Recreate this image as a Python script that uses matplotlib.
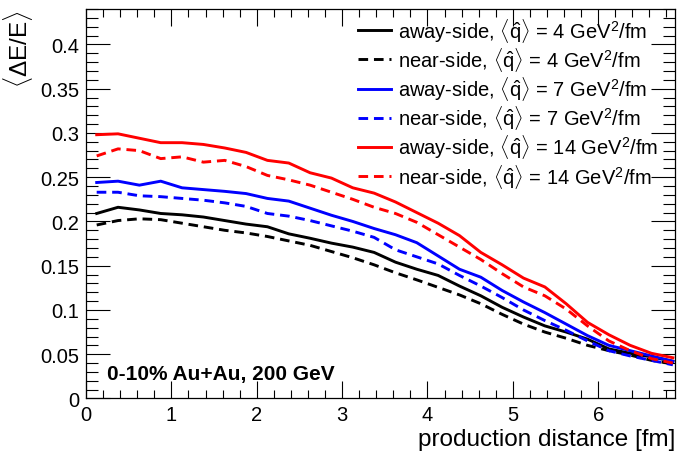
import matplotlib
matplotlib.use("Agg")
import matplotlib.pyplot as plt
from matplotlib.ticker import MultipleLocator

plt.rcParams['font.family'] = ['Liberation Sans', 'DejaVu Sans']
plt.rcParams['mathtext.fontset'] = 'custom'
plt.rcParams['mathtext.rm'] = 'Liberation Sans'
plt.rcParams['mathtext.it'] = 'Liberation Sans:italic'
plt.rcParams['mathtext.bf'] = 'Liberation Sans:bold'

# production distance bin centres [fm]
dist = [0.125, 0.375, 0.625, 0.875, 1.125, 1.375, 1.625, 1.875, 2.125, 2.375,
        2.625, 2.875, 3.125, 3.375, 3.625, 3.875, 4.125, 4.375, 4.625, 4.875,
        5.125, 5.375, 5.625, 5.875, 6.125, 6.375, 6.625, 6.875]

# <dE/E> for qhat = 4, 7, 14 GeV^2/fm
away_4 = [0.209, 0.216, 0.213, 0.209, 0.2075, 0.205, 0.201, 0.197, 0.194, 0.186,
          0.181, 0.1755, 0.171, 0.165, 0.154, 0.146, 0.139, 0.127, 0.116, 0.103,
          0.092, 0.082, 0.075, 0.067, 0.056, 0.051, 0.047, 0.042]
near_4 = [0.196, 0.201, 0.203, 0.202, 0.198, 0.194, 0.190, 0.187, 0.183, 0.178,
          0.173, 0.166, 0.159, 0.151, 0.142, 0.134, 0.1255, 0.117, 0.107, 0.095,
          0.084, 0.075, 0.068, 0.060, 0.054, 0.049, 0.043, 0.039]
away_7 = [0.244, 0.2455, 0.241, 0.2455, 0.238, 0.236, 0.234, 0.2315, 0.226, 0.223,
          0.215, 0.207, 0.200, 0.192, 0.185, 0.176, 0.161, 0.146, 0.137, 0.122,
          0.109, 0.097, 0.084, 0.071, 0.060, 0.054, 0.048, 0.042]
near_7 = [0.233, 0.233, 0.229, 0.228, 0.226, 0.224, 0.221, 0.217, 0.209, 0.206,
          0.201, 0.195, 0.189, 0.182, 0.168, 0.160, 0.152, 0.139, 0.127, 0.114,
          0.100, 0.088, 0.077, 0.065, 0.054, 0.048, 0.043, 0.038]
away_14 = [0.298, 0.299, 0.294, 0.289, 0.289, 0.287, 0.283, 0.278, 0.269, 0.266,
           0.255, 0.249, 0.238, 0.232, 0.222, 0.210, 0.198, 0.184, 0.165, 0.151,
           0.136, 0.126, 0.107, 0.086, 0.072, 0.060, 0.051, 0.046]
near_14 = [0.274, 0.282, 0.280, 0.271, 0.273, 0.267, 0.269, 0.262, 0.252, 0.247,
           0.241, 0.233, 0.225, 0.216, 0.209, 0.199, 0.185, 0.171, 0.157, 0.141,
           0.126, 0.116, 0.101, 0.082, 0.065, 0.054, 0.045, 0.040]

qhats = ['4', '4', '7', '7', '14', '14']
sides = ['away-side', 'near-side'] * 3
colors = ['black', 'black', 'blue', 'blue', 'red', 'red']
series = [away_4, near_4, away_7, near_7, away_14, near_14]

fig = plt.figure(figsize=(7, 4.56), dpi=100)
ax = fig.add_axes([0.1229, 0.124, 0.8414, 0.854])

for vals, side, q, c in zip(series, sides, qhats, colors):
    label = side + r', $\langle\hat{\mathrm{q}}\rangle$ = ' + q + r' GeV$^{2}$/fm'
    if side == 'near-side':
        ax.plot(dist, vals, color=c, lw=2.1, dashes=(3.3, 2.0), label=label)
    else:
        ax.plot(dist, vals, color=c, lw=2.1, label=label)

ax.set_xlim(0, 6.9)
ax.set_ylim(0, 0.44)

ax.xaxis.set_major_locator(MultipleLocator(1))
ax.xaxis.set_minor_locator(MultipleLocator(0.2))
ax.yaxis.set_minor_locator(MultipleLocator(0.01))
ax.set_yticks([0, 0.05, 0.1, 0.15, 0.2, 0.25, 0.3, 0.35, 0.4])
ax.set_yticklabels(['0', '0.05', '0.1', '0.15', '0.2', '0.25', '0.3', '0.35', '0.4'])

ax.tick_params(axis='both', which='both', direction='in', top=True, right=True,
               labelsize=14.5, width=0.8)
ax.tick_params(axis='y', which='major', length=17, pad=5)
ax.tick_params(axis='y', which='minor', length=8.5)
ax.tick_params(axis='x', which='major', length=12, pad=5)
ax.tick_params(axis='x', which='minor', length=6)
for sp in ax.spines.values():
    sp.set_linewidth(0.9)

ax.set_xlabel('production distance [fm]', fontsize=17.5, loc='right')
ax.xaxis.set_label_coords(1.0, -0.075)
ax.set_ylabel(r'$\langle\mathit{\Delta}$E/E$\rangle$', fontsize=17.5, loc='top')
ax.yaxis.set_label_coords(-0.087, 1.0)

ax.text(0.036, 0.063, '0-10% Au+Au, 200 GeV', transform=ax.transAxes,
        fontsize=15, fontweight='bold', va='center')

leg = ax.legend(loc='upper right', bbox_to_anchor=(0.985, 1.004), frameon=False,
                fontsize=14.5, handlelength=1.65, handletextpad=0.35,
                labelspacing=0.06, borderaxespad=0.0)

fig.savefig('out.png', dpi=100)
